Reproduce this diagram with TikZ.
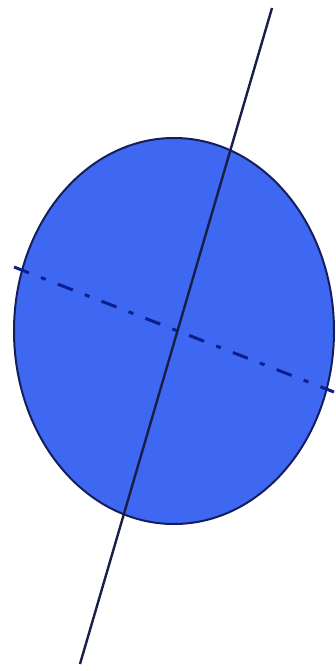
\documentclass[tikz,border=0pt]{standalone}
\definecolor{fillblue}{RGB}{62,104,242}
\definecolor{edgenavy}{RGB}{20,30,90}
\definecolor{axisdark}{RGB}{25,30,70}
\definecolor{dashnavy}{RGB}{10,30,140}
\tikzset{
  blob/.style={fill=fillblue, draw=edgenavy, line width=2pt},
  mainaxis/.style={draw=axisdark, line width=2.4pt},
  crossaxis/.style={draw=dashnavy, line width=3pt, dash pattern=on 16pt off 13pt on 5pt off 13pt}
}
\begin{document}
\begin{tikzpicture}[x=1pt,y=-1pt]
  \useasboundingbox (0,0) rectangle (336,671);
  \coordinate (c) at (174,331);
  \path[blob] (c) ellipse [x radius=160, y radius=193];
  \coordinate (crossL) at (14,267);
  \coordinate (crossR) at (334,392);
  \coordinate (mainT) at (272,8);
  \coordinate (mainB) at (80,664);
  \draw[crossaxis] (crossL) -- (crossR);
  \draw[mainaxis] (mainT) -- (mainB);
\end{tikzpicture}
\end{document}
